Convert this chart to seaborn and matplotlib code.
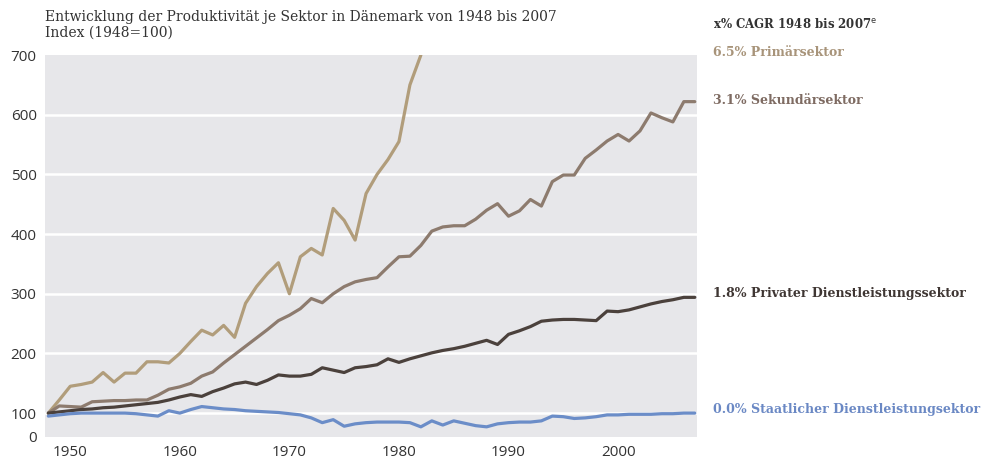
import pandas as pd
import seaborn as sns
import matplotlib.pyplot as plt

years = list(range(1948, 2008))

primaer = [100, 122, 145, 148, 152, 168, 152, 167, 167, 186, 186, 184, 200, 220, 239, 231, 247, 227,
           284, 312, 334, 352, 300, 362, 376, 365, 443, 423, 390, 468, 500, 525, 555, 650, 700]

sekundaer = [100, 112, 111, 110, 119, 120, 121, 121, 122, 122, 130, 140, 144, 150, 162, 169, 184, 198,
             212, 226, 240, 255, 264, 275, 292, 285, 300, 312, 320, 324, 327, 345, 362, 363, 381, 405,
             412, 414, 414, 425, 440, 451, 430, 439, 458, 447, 488, 499, 499, 527, 541, 556, 567, 556,
             573, 603, 595, 588, 622, 622]

privat = [100, 102, 104, 106, 107, 109, 110, 112, 114, 116, 118, 122, 127, 131, 128, 136, 142, 149,
          152, 148, 155, 164, 162, 162, 165, 176, 172, 168, 176, 178, 181, 191, 185, 191, 196, 201,
          205, 208, 212, 217, 222, 215, 232, 238, 245, 254, 256, 257, 257, 256, 255, 271, 270, 273,
          278, 283, 287, 290, 294, 294]

staat = [95, 97, 99, 100, 100, 100, 100, 100, 99, 97, 95, 104, 100, 106, 111, 109, 107, 106,
         104, 103, 102, 101, 99, 97, 92, 84, 89, 78, 82, 84, 85, 85, 85, 84, 77, 87,
         80, 87, 83, 79, 77, 82, 84, 85, 85, 87, 95, 94, 91, 92, 94, 97, 97, 98,
         98, 98, 99, 99, 100, 100]

sektoren = ["Primärsektor", "Sekundärsektor", "Privater Dienstleistungssektor", "Staatlicher Dienstleistungsektor"]
cagr = ["6.5%", "3.1%", "1.8%", "0.0%"]
farben = ["#b19d7b", "#8d7b6e", "#4b413c", "#6b8dc8"]
text_farben = ["#a8947a", "#7e6b62", "#3f3633", "#6a88c4"]

yticks = [100, 200, 300, 400, 500, 600, 700]
xticks = [1950, 1960, 1970, 1980, 1990, 2000]

rows = []
for name, werte in zip(sektoren, [primaer, sekundaer, privat, staat]):
    for j, w in zip(years, werte):
        rows.append({"Jahr": j, "Index": w, "Sektor": name})
df = pd.DataFrame(rows)

sns.set_style("white")
plt.rcParams['font.family'] = ['DejaVu Sans']

fig = plt.figure(figsize=(9.92, 4.63), dpi=100)
ax = fig.add_axes([0.0454, 0.0562, 0.6572, 0.8248])
ax.set_facecolor("#e7e7ea")

sns.lineplot(data=df, x="Jahr", y="Index", hue="Sektor", palette=farben, hue_order=sektoren,
             linewidth=2.3, legend=False, ax=ax)

ax.set_xlim(1947.7, 2007.2)
ax.set_ylim(60, 700)
ax.set_yticks([60] + yticks)
ax.set_yticklabels(["0"] + [str(t) for t in yticks])
ax.set_xticks(xticks)
for t in yticks[:-1]:
    ax.axhline(t, color="white", linewidth=1.8, zorder=1)
ax.grid(False)
for s in ax.spines.values():
    s.set_visible(False)
ax.tick_params(length=0, labelsize=11, labelcolor="#333333", pad=6)
for lab in ax.get_xticklabels() + ax.get_yticklabels():
    lab.set_family("Open Sans")
ax.set_xlabel("")
ax.set_ylabel("")

fig.text(45 / 992, 1 - 17 / 463, "Entwicklung der Produktivität je Sektor in Dänemark von 1948 bis 2007",
         family="DejaVu Serif", fontsize=10, color="#333333", va="center")
fig.text(45 / 992, 1 - 33 / 463, "Index (1948=100)",
         family="DejaVu Serif", fontsize=10, color="#333333", va="center")

fig.text(713 / 992, 1 - 24 / 463, r"x% CAGR 1948 bis 2007$^{\mathrm{e}}$", family="DejaVu Serif",
         fontsize=8.5, fontweight="bold", color="#333333", va="center")
label_y = [52, 100, 294, 410]
for c, name, col, yy in zip(cagr, sektoren, text_farben, label_y):
    fig.text(713 / 992, 1 - yy / 463, f"{c} {name}", family="DejaVu Serif", fontsize=9,
             fontweight="bold", color=col, va="center")

fig.savefig("out.png", dpi=100)
